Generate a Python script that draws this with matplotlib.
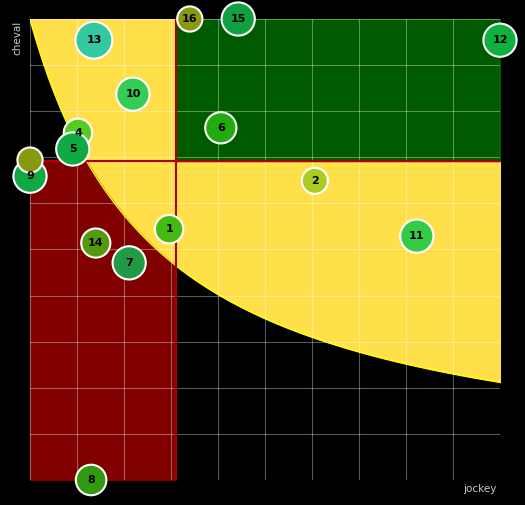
import matplotlib.pyplot as plt
import numpy as np

# bubble data (jockey, cheval)
labels = ['1', '2', '4', '5', '6', '7', '8', '9', '10', '11', '12', '13', '14', '15', '16', '']
jockey = [2.96, 6.06, 1.02, 0.91, 4.06, 2.11, 1.30, 0.0, 2.19, 8.23, 10.0, 1.36, 1.40, 4.43, 3.40, 0.0]
cheval = [5.44, 6.49, 7.53, 7.18, 7.64, 4.71, 0.0, 6.59, 8.37, 5.29, 9.54, 9.54, 5.14, 10.0, 10.0, 6.94]
sizes = [190, 160, 190, 260, 230, 260, 220, 260, 260, 260, 260, 320, 200, 260, 150, 150]
colors = ['#44bb11', '#aacc22', '#55cc22', '#10aa44', '#22aa11', '#229944', '#339911', '#10aa44',
          '#33cc55', '#33cc44', '#10b040', '#33c8a0', '#559911', '#10a040', '#8a9a10', '#889910']

x_split, y_split = 3.1, 6.92
a, c = 2.7, 27.0

fig = plt.figure(figsize=(5.25, 5.05), dpi=100, facecolor='black')
ax = fig.add_axes([30/525, 25/505, 470/525, 461/505])
ax.set_facecolor('black')
ax.set_xlim(0, 10)
ax.set_ylim(0, 10)

xs = np.linspace(0, 10, 400)
curve = c / (xs + a)
ax.fill_between(xs, curve, 10, color='#ffe04a', zorder=1)
ax.fill_between(xs, 0, np.minimum(curve, y_split), where=xs <= x_split, color='#800000', zorder=1)
ax.fill_between([x_split, 10], y_split, 10, color='#005a00', zorder=2)
ax.plot(xs, curve, color='#ffff00', lw=1, zorder=2)
ax.axvline(x_split, color='#aa0000', lw=1.5, zorder=3)
ax.axhline(y_split, color='#aa0000', lw=1.5, zorder=3)

ax.set_xticks(np.arange(0, 11, 1))
ax.set_yticks(np.arange(0, 11, 1))
ax.grid(color='white', alpha=0.35, lw=0.8, zorder=2.5)
ax.set_axisbelow(False)
ax.tick_params(length=0, labelbottom=False, labelleft=False)
for s in ax.spines.values():
    s.set_visible(False)

ax.scatter(jockey, cheval, s=[v * 2.2 for v in sizes], c=colors, edgecolors='white',
           linewidths=1.5, zorder=5, clip_on=False)
for lx, ly, t in zip(jockey, cheval, labels):
    ax.text(lx, ly, t, ha='center', va='center', fontsize=8, fontweight='bold',
            color='black', zorder=6)

fig.text(17/525, 1 - 38/505, 'cheval', rotation=90, color='#cccccc', fontsize=7.5,
         ha='center', va='center')
fig.text(480/525, 1 - 489/505, 'jockey', color='#cccccc', fontsize=7.5,
         ha='center', va='center')

fig.savefig('out.png', dpi=100, facecolor='black')
